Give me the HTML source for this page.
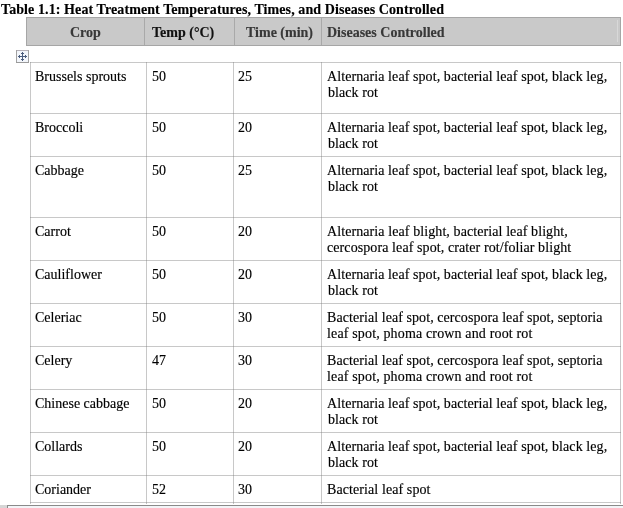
<!DOCTYPE html>
<html><head><meta charset="utf-8">
<style>
html,body{margin:0;padding:0;background:#fff;width:623px;height:508px;overflow:hidden;position:relative}
body{font-family:"Liberation Serif",serif;font-size:14px;line-height:16px;color:#000}
.t{will-change:transform;-webkit-text-stroke:0.15px}
.a{position:absolute}
.t{position:absolute;white-space:nowrap}
.b{font-weight:bold;letter-spacing:0}
.hl{position:absolute;height:1px;background:#c8c8c8}
.vl{position:absolute;width:1px;background:#c8c8c8}
</style></head><body>

<div class="t b" style="left:1px;top:2px;color:#000;letter-spacing:0.09px">Table 1.1: Heat Treatment Temperatures, Times, and Diseases Controlled</div>
<div class="a" style="left:26px;top:17px;width:593px;height:27px;background:#c9c9c9;border:1px solid #a6a6a6"></div>
<div class="vl" style="left:144px;top:18px;height:27px;background:#a9a9a9"></div>
<div class="vl" style="left:234px;top:18px;height:27px;background:#a9a9a9"></div>
<div class="vl" style="left:321px;top:18px;height:27px;background:#a9a9a9"></div>
<div class="vl" style="left:617px;top:20px;height:22px;background:#d8d8d8"></div>
<div class="t b" style="left:70px;top:25px;color:#383838">Crop</div>
<div class="t b" style="left:152px;top:25px;color:#111">Temp (°C)</div>
<div class="t b" style="left:246px;top:25px;color:#383838">Time (min)</div>
<div class="t b" style="left:326.7px;top:25px;color:#383838">Diseases Controlled</div>
<svg class="a" style="left:16px;top:50px" width="13" height="13" viewBox="0 0 13 13" shape-rendering="crispEdges"><rect x="0" y="0" width="13" height="13" fill="#f3f6fb"/><rect x="0" y="0" width="13" height="1" fill="#b4b0b8"/><rect x="0" y="0" width="1" height="13" fill="#a2a2a2"/><rect x="12" y="0" width="1" height="13" fill="#a2a2a2"/><rect x="0" y="12" width="13" height="1" fill="#9a9a9a"/><g fill="#4b5d7d"><rect x="6" y="2" width="1" height="9"/><rect x="2" y="6" width="9" height="1"/><rect x="5" y="3" width="3" height="1"/><rect x="5" y="9" width="3" height="1"/><rect x="3" y="5" width="1" height="3"/><rect x="9" y="5" width="1" height="3"/></g></svg>
<div class="hl" style="left:30px;top:62px;width:591px"></div>
<div class="hl" style="left:30px;top:113px;width:591px"></div>
<div class="hl" style="left:30px;top:156px;width:591px"></div>
<div class="hl" style="left:30px;top:217px;width:591px"></div>
<div class="hl" style="left:30px;top:260px;width:591px"></div>
<div class="hl" style="left:30px;top:303px;width:591px"></div>
<div class="hl" style="left:30px;top:346px;width:591px"></div>
<div class="hl" style="left:30px;top:389px;width:591px"></div>
<div class="hl" style="left:30px;top:432px;width:591px"></div>
<div class="hl" style="left:30px;top:475px;width:591px"></div>
<div class="hl" style="left:30px;top:502px;width:591px"></div>
<div class="vl" style="left:30px;top:62px;height:442px"></div>
<div class="vl" style="left:146px;top:62px;height:442px"></div>
<div class="vl" style="left:233px;top:62px;height:442px"></div>
<div class="vl" style="left:321px;top:62px;height:442px"></div>
<div class="vl" style="left:620px;top:62px;height:442px"></div>
<div class="a" style="left:30px;top:62px;width:1px;height:1px;background:#a8a8a8"></div>
<div class="a" style="left:146px;top:62px;width:1px;height:1px;background:#a8a8a8"></div>
<div class="a" style="left:233px;top:62px;width:1px;height:1px;background:#a8a8a8"></div>
<div class="a" style="left:321px;top:62px;width:1px;height:1px;background:#a8a8a8"></div>
<div class="a" style="left:620px;top:62px;width:1px;height:1px;background:#a8a8a8"></div>
<div class="a" style="left:30px;top:113px;width:1px;height:1px;background:#a8a8a8"></div>
<div class="a" style="left:146px;top:113px;width:1px;height:1px;background:#a8a8a8"></div>
<div class="a" style="left:233px;top:113px;width:1px;height:1px;background:#a8a8a8"></div>
<div class="a" style="left:321px;top:113px;width:1px;height:1px;background:#a8a8a8"></div>
<div class="a" style="left:620px;top:113px;width:1px;height:1px;background:#a8a8a8"></div>
<div class="a" style="left:30px;top:156px;width:1px;height:1px;background:#a8a8a8"></div>
<div class="a" style="left:146px;top:156px;width:1px;height:1px;background:#a8a8a8"></div>
<div class="a" style="left:233px;top:156px;width:1px;height:1px;background:#a8a8a8"></div>
<div class="a" style="left:321px;top:156px;width:1px;height:1px;background:#a8a8a8"></div>
<div class="a" style="left:620px;top:156px;width:1px;height:1px;background:#a8a8a8"></div>
<div class="a" style="left:30px;top:217px;width:1px;height:1px;background:#a8a8a8"></div>
<div class="a" style="left:146px;top:217px;width:1px;height:1px;background:#a8a8a8"></div>
<div class="a" style="left:233px;top:217px;width:1px;height:1px;background:#a8a8a8"></div>
<div class="a" style="left:321px;top:217px;width:1px;height:1px;background:#a8a8a8"></div>
<div class="a" style="left:620px;top:217px;width:1px;height:1px;background:#a8a8a8"></div>
<div class="a" style="left:30px;top:260px;width:1px;height:1px;background:#a8a8a8"></div>
<div class="a" style="left:146px;top:260px;width:1px;height:1px;background:#a8a8a8"></div>
<div class="a" style="left:233px;top:260px;width:1px;height:1px;background:#a8a8a8"></div>
<div class="a" style="left:321px;top:260px;width:1px;height:1px;background:#a8a8a8"></div>
<div class="a" style="left:620px;top:260px;width:1px;height:1px;background:#a8a8a8"></div>
<div class="a" style="left:30px;top:303px;width:1px;height:1px;background:#a8a8a8"></div>
<div class="a" style="left:146px;top:303px;width:1px;height:1px;background:#a8a8a8"></div>
<div class="a" style="left:233px;top:303px;width:1px;height:1px;background:#a8a8a8"></div>
<div class="a" style="left:321px;top:303px;width:1px;height:1px;background:#a8a8a8"></div>
<div class="a" style="left:620px;top:303px;width:1px;height:1px;background:#a8a8a8"></div>
<div class="a" style="left:30px;top:346px;width:1px;height:1px;background:#a8a8a8"></div>
<div class="a" style="left:146px;top:346px;width:1px;height:1px;background:#a8a8a8"></div>
<div class="a" style="left:233px;top:346px;width:1px;height:1px;background:#a8a8a8"></div>
<div class="a" style="left:321px;top:346px;width:1px;height:1px;background:#a8a8a8"></div>
<div class="a" style="left:620px;top:346px;width:1px;height:1px;background:#a8a8a8"></div>
<div class="a" style="left:30px;top:389px;width:1px;height:1px;background:#a8a8a8"></div>
<div class="a" style="left:146px;top:389px;width:1px;height:1px;background:#a8a8a8"></div>
<div class="a" style="left:233px;top:389px;width:1px;height:1px;background:#a8a8a8"></div>
<div class="a" style="left:321px;top:389px;width:1px;height:1px;background:#a8a8a8"></div>
<div class="a" style="left:620px;top:389px;width:1px;height:1px;background:#a8a8a8"></div>
<div class="a" style="left:30px;top:432px;width:1px;height:1px;background:#a8a8a8"></div>
<div class="a" style="left:146px;top:432px;width:1px;height:1px;background:#a8a8a8"></div>
<div class="a" style="left:233px;top:432px;width:1px;height:1px;background:#a8a8a8"></div>
<div class="a" style="left:321px;top:432px;width:1px;height:1px;background:#a8a8a8"></div>
<div class="a" style="left:620px;top:432px;width:1px;height:1px;background:#a8a8a8"></div>
<div class="a" style="left:30px;top:475px;width:1px;height:1px;background:#a8a8a8"></div>
<div class="a" style="left:146px;top:475px;width:1px;height:1px;background:#a8a8a8"></div>
<div class="a" style="left:233px;top:475px;width:1px;height:1px;background:#a8a8a8"></div>
<div class="a" style="left:321px;top:475px;width:1px;height:1px;background:#a8a8a8"></div>
<div class="a" style="left:620px;top:475px;width:1px;height:1px;background:#a8a8a8"></div>
<div class="a" style="left:30px;top:502px;width:1px;height:1px;background:#a8a8a8"></div>
<div class="a" style="left:146px;top:502px;width:1px;height:1px;background:#a8a8a8"></div>
<div class="a" style="left:233px;top:502px;width:1px;height:1px;background:#a8a8a8"></div>
<div class="a" style="left:321px;top:502px;width:1px;height:1px;background:#a8a8a8"></div>
<div class="a" style="left:620px;top:502px;width:1px;height:1px;background:#a8a8a8"></div>
<div class="t" style="left:34.8px;top:69px;letter-spacing:0px">Brussels sprouts</div>
<div class="t" style="left:152px;top:69px">50</div>
<div class="t" style="left:238px;top:69px">25</div>
<div class="t" style="left:326.8px;top:69px;letter-spacing:0.080px">Alternaria leaf spot, bacterial leaf spot, black leg,</div>
<div class="t" style="left:327.8px;top:85px;letter-spacing:0.060px">black rot</div>
<div class="t" style="left:34.8px;top:120px;letter-spacing:0px">Broccoli</div>
<div class="t" style="left:152px;top:120px">50</div>
<div class="t" style="left:238px;top:120px">20</div>
<div class="t" style="left:326.8px;top:120px;letter-spacing:0.080px">Alternaria leaf spot, bacterial leaf spot, black leg,</div>
<div class="t" style="left:327.8px;top:136px;letter-spacing:0.060px">black rot</div>
<div class="t" style="left:34.8px;top:163px;letter-spacing:0px">Cabbage</div>
<div class="t" style="left:152px;top:163px">50</div>
<div class="t" style="left:238px;top:163px">25</div>
<div class="t" style="left:326.8px;top:163px;letter-spacing:0.080px">Alternaria leaf spot, bacterial leaf spot, black leg,</div>
<div class="t" style="left:327.8px;top:179px;letter-spacing:0.060px">black rot</div>
<div class="t" style="left:34.8px;top:224px;letter-spacing:0px">Carrot</div>
<div class="t" style="left:152px;top:224px">50</div>
<div class="t" style="left:238px;top:224px">20</div>
<div class="t" style="left:326.8px;top:224px;letter-spacing:0.090px">Alternaria leaf blight, bacterial leaf blight,</div>
<div class="t" style="left:326.8px;top:240px;letter-spacing:0.089px">cercospora leaf spot, crater rot/foliar blight</div>
<div class="t" style="left:34.8px;top:267px;letter-spacing:0px">Cauliflower</div>
<div class="t" style="left:152px;top:267px">50</div>
<div class="t" style="left:238px;top:267px">20</div>
<div class="t" style="left:326.8px;top:267px;letter-spacing:0.080px">Alternaria leaf spot, bacterial leaf spot, black leg,</div>
<div class="t" style="left:327.8px;top:283px;letter-spacing:0.060px">black rot</div>
<div class="t" style="left:34.8px;top:310px;letter-spacing:0px">Celeriac</div>
<div class="t" style="left:152px;top:310px">50</div>
<div class="t" style="left:238px;top:310px">30</div>
<div class="t" style="left:326.8px;top:310px;letter-spacing:0.068px">Bacterial leaf spot, cercospora leaf spot, septoria</div>
<div class="t" style="left:326.8px;top:326px;letter-spacing:0.150px">leaf spot, phoma crown and root rot</div>
<div class="t" style="left:34.8px;top:353px;letter-spacing:0px">Celery</div>
<div class="t" style="left:152px;top:353px">47</div>
<div class="t" style="left:238px;top:353px">30</div>
<div class="t" style="left:326.8px;top:353px;letter-spacing:0.068px">Bacterial leaf spot, cercospora leaf spot, septoria</div>
<div class="t" style="left:326.8px;top:369px;letter-spacing:0.150px">leaf spot, phoma crown and root rot</div>
<div class="t" style="left:34.8px;top:396px;letter-spacing:0px">Chinese cabbage</div>
<div class="t" style="left:152px;top:396px">50</div>
<div class="t" style="left:238px;top:396px">20</div>
<div class="t" style="left:326.8px;top:396px;letter-spacing:0.080px">Alternaria leaf spot, bacterial leaf spot, black leg,</div>
<div class="t" style="left:327.8px;top:412px;letter-spacing:0.060px">black rot</div>
<div class="t" style="left:34.8px;top:439px;letter-spacing:0px">Collards</div>
<div class="t" style="left:152px;top:439px">50</div>
<div class="t" style="left:238px;top:439px">20</div>
<div class="t" style="left:326.8px;top:439px;letter-spacing:0.080px">Alternaria leaf spot, bacterial leaf spot, black leg,</div>
<div class="t" style="left:327.8px;top:455px;letter-spacing:0.060px">black rot</div>
<div class="t" style="left:34.8px;top:482px;letter-spacing:0px">Coriander</div>
<div class="t" style="left:152px;top:482px">52</div>
<div class="t" style="left:238px;top:482px">30</div>
<div class="t" style="left:326.8px;top:482px;letter-spacing:0.089px">Bacterial leaf spot</div>
<div class="a" style="left:0;top:505px;width:623px;height:3px;background:#f3f5f8"></div>
<div class="a" style="left:7px;top:505px;width:616px;height:1px;background:#8a8a8a"></div>
<div class="a" style="left:0;top:505px;width:7px;height:3px;background:#d6d6d6"></div>
<div class="a" style="left:7px;top:505px;width:1px;height:3px;background:#8a8a8a"></div>
</body></html>
